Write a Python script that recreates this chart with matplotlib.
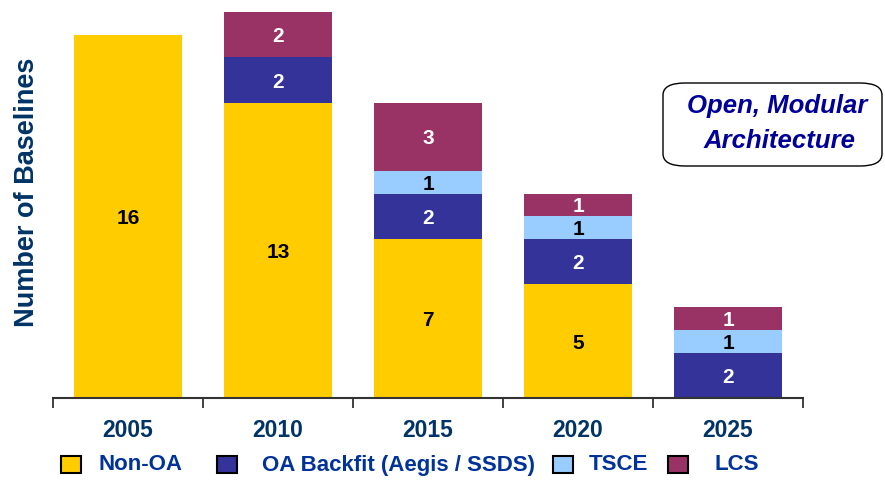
import numpy as np
import matplotlib
matplotlib.use("Agg")
import matplotlib.pyplot as plt
from matplotlib.patches import Rectangle, FancyBboxPatch

# data
years = ["2005", "2010", "2015", "2020", "2025"]
non_oa = [16, 13, 7, 5, 0]
oa_backfit = [0, 2, 2, 2, 2]
tsce = [0, 0, 1, 1, 1]
lcs = [0, 2, 3, 1, 1]

series_names = ["Non-OA", "OA Backfit (Aegis / SSDS)", "TSCE", "LCS"]
series_values = [non_oa, oa_backfit, tsce, lcs]
series_colors = ["#FFCC00", "#333399", "#99CCFF", "#993366"]
label_colors = ["black", "white", "black", "white"]

# legend layout (pixels from left), placed by hand like the original slide
legend_box_x = [61, 217, 553, 668]
legend_text_x = [98, 262, 589, 715]

FONT = ["Liberation Sans", "Arial", "DejaVu Sans"]
W, H = 885, 484

fig = plt.figure(figsize=(W / 100, H / 100), dpi=100)
ax = fig.add_axes([53 / W, 1 - 398 / H, 750 / W, 386 / H])

x = np.arange(len(years))
bottom = np.zeros(len(years))
for vals, color, tcol in zip(series_values, series_colors, label_colors):
    vals = np.array(vals, dtype=float)
    bars = ax.bar(x, vals, width=0.72, bottom=bottom, color=color, edgecolor="none")
    for b, v, b0 in zip(bars, vals, bottom):
        if v > 0:
            ax.text(b.get_x() + b.get_width() / 2, b0 + v / 2, f"{int(v)}",
                    ha="center", va="center_baseline", color=tcol, fontsize=15,
                    fontweight="bold", family=FONT)
    bottom += vals

ax.set_xlim(-0.5, len(years) - 0.5)
ax.set_ylim(0, 17)
for s in ["top", "right", "left"]:
    ax.spines[s].set_visible(False)
ax.spines["bottom"].set_linewidth(1.5)
ax.spines["bottom"].set_color("#333333")
ax.set_yticks([])

ax.set_xticks(x)
ax.set_xticklabels(years, fontsize=16.5, fontweight="bold", family=FONT, color="#003366")
ax.tick_params(axis="x", which="major", length=0, pad=15)
ax.set_xticks(np.arange(len(years) + 1) - 0.5, minor=True)
ax.tick_params(axis="x", which="minor", length=7, width=1.3, color="#333333", direction="out")

fig.text(27 / W, 1 - 192 / H, "Number of Baselines", rotation=90, ha="center", va="center",
         fontsize=19.5, fontweight="bold", family=FONT, color="#003366")

# callout box
box = FancyBboxPatch((663 / W, 1 - 166 / H), 219 / W, 83 / H,
                     boxstyle="round,pad=0,rounding_size=0.025",
                     transform=fig.transFigure, facecolor="white",
                     edgecolor="black", linewidth=1.0)
fig.patches.append(box)
fig.text(777 / W, 1 - 106 / H, "Open, Modular", ha="center", va="center",
         fontsize=18.5, fontweight="bold", style="italic", family=FONT, color="#000099")
fig.text(780 / W, 1 - 141 / H, "Architecture", ha="center", va="center",
         fontsize=18.5, fontweight="bold", style="italic", family=FONT, color="#000099")

# legend
for name, color, bx, tx in zip(series_names, series_colors, legend_box_x, legend_text_x):
    fig.add_artist(Rectangle((bx / W, 1 - 473 / H), 20 / W, 17 / H, transform=fig.transFigure,
                             facecolor=color, edgecolor="black", linewidth=1.5))
    fig.text(tx / W, 1 - 465 / H, name, ha="left", va="center", fontsize=16,
             fontweight="bold", family=FONT, color="#003399")

fig.savefig("out.png", dpi=100)
